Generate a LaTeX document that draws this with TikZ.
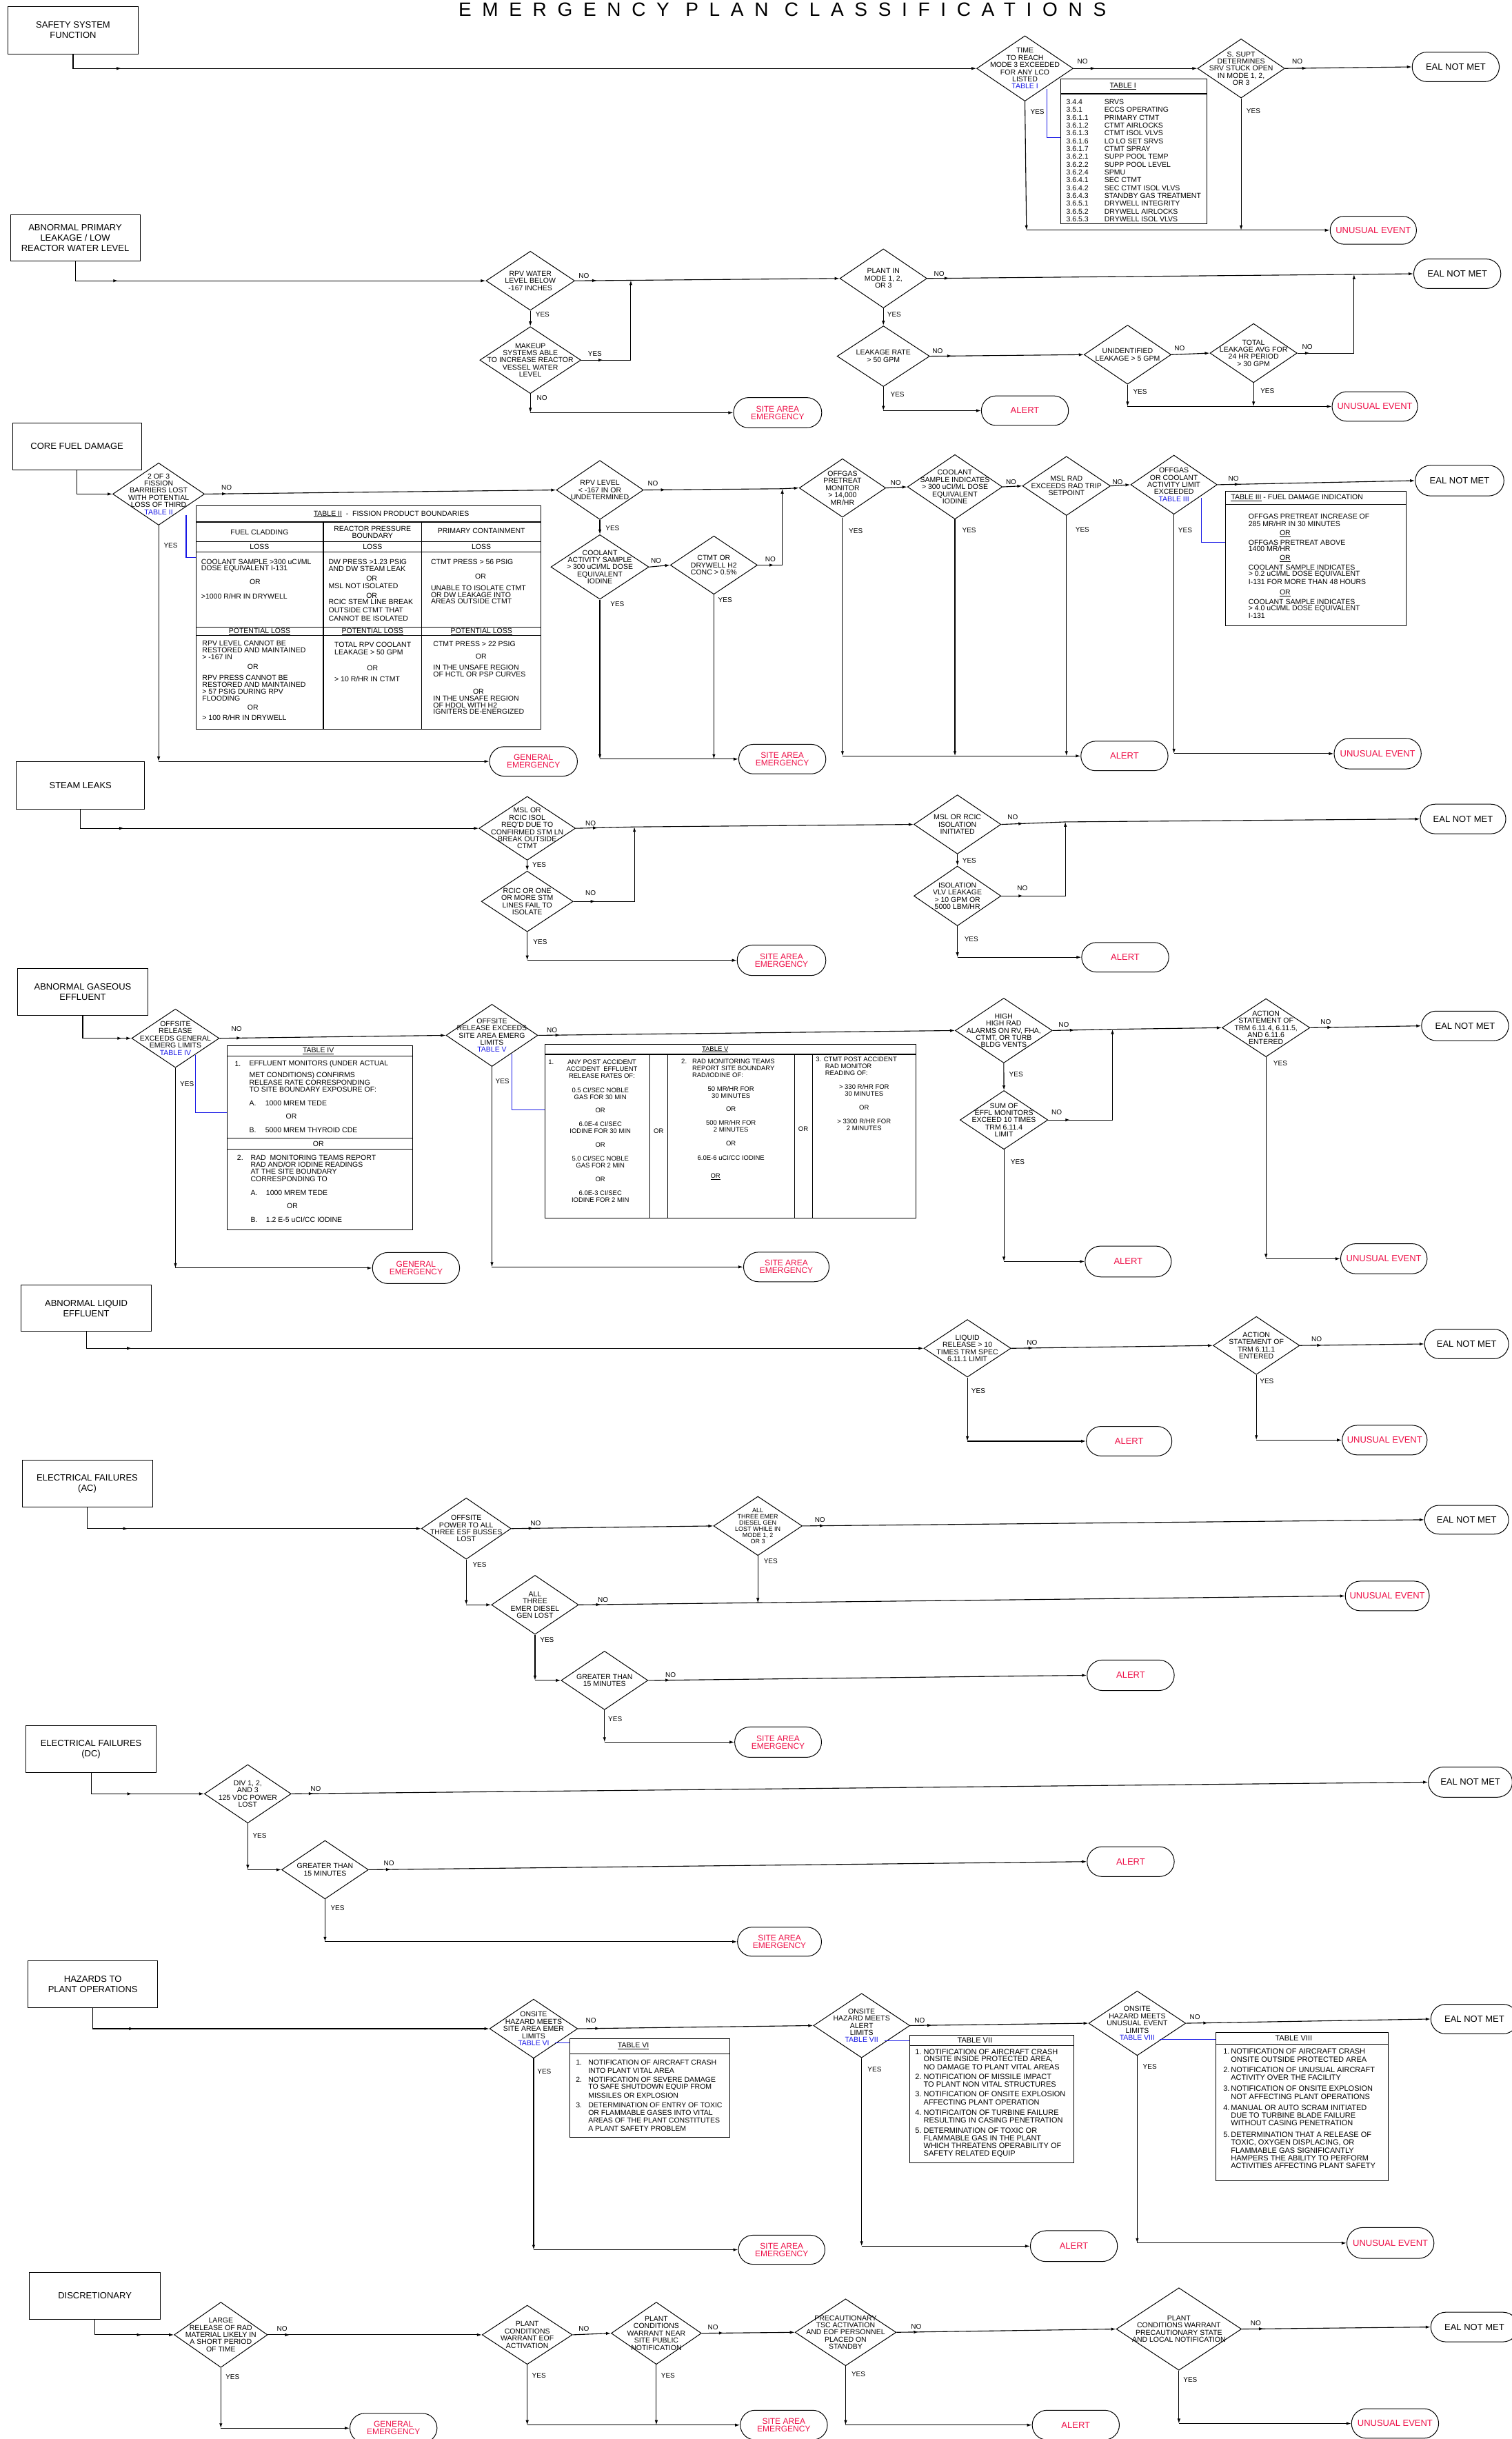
\documentclass[tikz,border=0pt]{standalone}
\usepackage{fontspec}
\setmainfont{Liberation Sans}
\newfontfamily\titlefont[LetterSpace=56]{Liberation Sans}
\usetikzlibrary{shapes.geometric,shapes.misc,arrows.meta,decorations.markings}
\definecolor{tred}{RGB}{238,16,72}
\definecolor{tblue}{RGB}{24,24,230}
\def\uu{2.2562pt}
\newcommand\dfont{\fontsize{10.5}{10.4}\selectfont}
\newcommand\sdfont{\fontsize{9}{9}\selectfont}
\newcommand\tfont{\fontsize{13}{13}\selectfont}
\newcommand\ttfnt{\fontsize{12}{11}\selectfont}
\newcommand\bfnt{\fontsize{13}{15}\selectfont}
\newcommand\ynfont{\fontsize{10}{10}\selectfont}
\newcommand\tabfont{\fontsize{10.5}{10.5}\selectfont}
\tikzset{
  dia/.style={draw, diamond, inner sep=0pt, line width=1pt},
  dtext/.style={align=center, font=\dfont, inner sep=0pt},
  term/.style={draw, rounded rectangle, inner sep=0pt, line width=1pt, align=center, font=\tfont},
  hbox/.style={draw, rectangle, inner sep=0pt, line width=1pt, align=center, font=\bfnt},
  conn/.style={line width=1.1pt, -{Latex[length=7pt,width=4.5pt]}},
  lnk/.style={line width=1.1pt},
  narr/.style={postaction={decorate}, decoration={markings, mark=at position #1 with {\arrow{Latex[length=7pt,width=4.5pt]}}}},
  narr/.default=32pt,
  blu/.style={draw=tblue, line width=1.1pt},
  ynl/.style={font=\ynfont, inner sep=0pt, anchor=west},
  tabt/.style={font=\tabfont, inner sep=0pt, anchor=west},
  tabc/.style={font=\tabfont, inner sep=0pt, anchor=center, align=center},
  tframe/.style={draw, line width=1pt},
}
\newcommand\mkdia[7][]{\node[dia, minimum width=#5*\uu, minimum height=#6*\uu] (#2) at (#3,#4) {};\node[dtext,#1] (#2t) at (#3,#4) {#7};}
\newcommand\mkterm[7][]{\node[term,#1,minimum width=#5*\uu,minimum height=#6*\uu] (#2) at (#3,#4) {#7};}
\newcommand\mkbox[6]{\node[hbox, minimum width=#4*\uu, minimum height=#5*\uu] (#1) at (#2,#3) {#6};}
\newcounter{lbc}
\newcommand\mklb[3]{\stepcounter{lbc}\node[ynl] (lb\thelbc) at (#1,#2) {#3};}
\newcounter{txc}
\newcommand\mktw[3]{\stepcounter{txc}\node[tabt] (tx\thetxc) at (#1,#2) {#3};}
\newcommand\mktc[3]{\stepcounter{txc}\node[tabc] (tx\thetxc) at (#1,#2) {#3};}
% yes-path: down from a diamond, arrow at the corner, then across to the target
\newcommand\ydn[2]{\draw[conn] (#1.south) -- (#1.south |- #2.west);\draw[conn] (#1.south |- #2.west) -- (#2.west);}
% start path from a title box
\newcommand\sdn[2]{\draw[conn, narr=90pt] (#1.south) |- (#2.west);}
\begin{document}
\begin{tikzpicture}[x=2.2562pt,y=-2.2562pt]
\useasboundingbox (0,0) rectangle (972,1568);
\fill[white] (0,0) rectangle (972,1568);
\node[anchor=base, inner sep=0pt, font=\titlefont\fontsize{28}{28}\selectfont] (title) at (503,10.4) {EMERGENCY PLAN CLASSIFICATIONS};

%% ---------------- Section 1
\mkbox{s1}{47}{19.5}{84}{31}{SAFETY SYSTEM\\FUNCTION}
\mkdia{d1a}{659}{44}{62}{42}{TIME\\TO REACH\\MODE 3 EXCEEDED\\FOR ANY LCO\\LISTED\\\textcolor{tblue}{TABLE I}}
\mkdia{d1b}{798}{44}{56}{38}{S. SUPT\\DETERMINES\\SRV STUCK OPEN\\IN MODE 1, 2,\\OR 3}
\mkterm{eal1}{936}{43}{56}{19}{EAL NOT MET}
\mkterm[text=tred]{ue1}{883}{148}{55.5}{18}{UNUSUAL EVENT}
\draw[tframe] (682,50.7) rectangle (776,144);
\draw[lnk] (682,60.3) -- (776,60.3);
\mktc{722}{55.5}{\underline{TABLE I}}
\foreach \c/\t [count=\i] in {3.4.4/SRVS,3.5.1/ECCS OPERATING,3.6.1.1/PRIMARY CTMT,3.6.1.2/CTMT AIRLOCKS,3.6.1.3/CTMT ISOL VLVS,3.6.1.6/LO LO SET SRVS,3.6.1.7/CTMT SPRAY,3.6.2.1/SUPP POOL TEMP,3.6.2.2/SUPP POOL LEVEL,3.6.2.4/SPMU,3.6.4.1/SEC CTMT,3.6.4.2/SEC CTMT ISOL VLVS,3.6.4.3/STANDBY GAS TREATMENT,3.6.5.1/DRYWELL INTEGRITY,3.6.5.2/DRYWELL AIRLOCKS,3.6.5.3/DRYWELL ISOL VLVS}{
  \node[tabt] (ca\i) at (685.5,{65.5+5.03*(\i-1)}) {\c};
  \node[tabt] (cb\i) at (710,{65.5+5.03*(\i-1)}) {\t};
}
\sdn{s1}{d1a}
\draw[conn, narr] (d1a.east) -- (d1b.west);
\draw[conn, narr] (d1b.east) -- (eal1.west);
\coordinate (j1a) at (660,148);
\coordinate (j1b) at (798,148);
\draw[conn] (d1a.south) -- (j1a);
\draw[conn] (j1a) -- (ue1.west);
\draw[conn] (d1b.south) -- (j1b);
\draw[blu] (673,57) |- (682,88.5);
\mklb{692.6}{39.7}{NO}\mklb{830.7}{39.6}{NO}\mklb{662.5}{71.8}{YES}\mklb{801.4}{71.4}{YES}

%% ---------------- Section 2
\mkbox{s2}{48.35}{153}{83.3}{30}{ABNORMAL PRIMARY\\LEAKAGE / LOW\\REACTOR WATER LEVEL}
\mkdia{d2a}{341}{180.5}{57}{38}{RPV WATER\\LEVEL BELOW\\-167 INCHES}
\mkdia{d2c}{341}{231.5}{65}{43}{MAKEUP\\SYSTEMS ABLE\\TO INCREASE REACTOR\\VESSEL WATER\\LEVEL}
\mkdia{d2b}{568}{179}{56}{38}{PLANT IN\\MODE 1, 2,\\OR 3}
\mkdia{d2d}{568}{229}{59.5}{39}{LEAKAGE RATE\\> 50 GPM}
\mkdia{d2e}{725}{228}{56}{38}{UNIDENTIFIED\\LEAKAGE > 5 GPM}
\mkdia{d2f}{806}{227}{56}{38}{TOTAL\\LEAKAGE AVG FOR\\24 HR PERIOD\\> 30 GPM}
\mkterm{eal2}{937}{176}{56}{19}{EAL NOT MET}
\mkterm[font=\ttfnt,text=tred]{sae2}{500}{265.3}{56.7}{19.4}{SITE AREA\\EMERGENCY}
\mkterm[text=tred]{alert2}{659}{264}{56}{19}{ALERT}
\mkterm[text=tred]{ue2}{884}{261.3}{55}{19}{UNUSUAL EVENT}
\sdn{s2}{d2a}
\coordinate (j2a) at (405.6,180.2);
\draw[lnk, narr] (d2a.east) -- (j2a);
\draw[conn] (j2a) -- (d2b.west);
\draw[conn] (d2a.south) -- (d2c.north);
\draw[conn, narr] (d2c.east) -| (j2a);
\ydn{d2c}{sae2}
\coordinate (j2c) at (870.6,176.4);
\draw[lnk, narr] (d2b.east) -- (j2c);
\draw[conn] (j2c) -- (eal2.west);
\draw[conn] (d2b.south) -- (d2d.north);
\draw[conn, narr] (d2d.east) -- (d2e.west);
\draw[conn] (d2e.east) -- (d2f.west);
\draw[conn, narr=18pt] (d2f.east) -| (j2c);
\ydn{d2d}{alert2}
\ydn{d2e}{ue2}
\coordinate (j2d) at (d2f.south |- ue2.west);
\draw[conn] (d2f.south) -- (j2d);
\mklb{372}{177.3}{NO}\mklb{344.3}{202.3}{YES}\mklb{378}{227.6}{YES}\mklb{345.1}{255.6}{NO}
\mklb{600.4}{176.1}{NO}\mklb{570.4}{202.1}{YES}\mklb{599.4}{225.8}{NO}\mklb{572.5}{253.4}{YES}
\mklb{755}{224}{NO}\mklb{728.5}{251.9}{YES}\mklb{837.2}{223.1}{NO}\mklb{810.4}{251.2}{YES}

%% ---------------- Section 3
\mkbox{s3}{49.5}{287}{83}{30}{CORE FUEL DAMAGE}
\mkdia{d3a}{102}{317.6}{59}{40}{2 OF 3\\FISSION\\BARRIERS LOST\\WITH POTENTIAL\\LOSS OF THIRD\\\textcolor{tblue}{TABLE II}}
\mkdia{d3b}{385.7}{315}{56}{38}{RPV LEVEL\\< -167 IN OR\\UNDETERMINED}
\mkdia{d3c}{385.7}{364.5}{63}{41.5}{COOLANT\\ACTIVITY SAMPLE\\> 300 uCI/ML DOSE\\EQUIVALENT\\IODINE}
\mkdia{d3e}{459}{363.3}{56}{37.5}{CTMT OR\\DRYWELL H2\\CONC > 0.5\%}
\mkdia{d3d}{541.7}{313.7}{55.6}{37.6}{OFFGAS\\PRETREAT\\MONITOR\\> 14,000\\MR/HR}
\mkdia{d3f}{614}{313}{61}{41.5}{COOLANT\\SAMPLE INDICATES\\> 300 uCI/ML DOSE\\EQUIVALENT\\IODINE}
\mkdia{d3g}{685.7}{312.4}{56.6}{38}{MSL RAD\\EXCEEDS RAD TRIP\\SETPOINT}
\mkdia{d3h}{754.8}{311.6}{55.6}{38}{OFFGAS\\OR COOLANT\\ACTIVITY LIMIT\\EXCEEDED\\\textcolor{tblue}{TABLE III}}
\mkterm{eal3}{938.5}{309}{57}{19.6}{EAL NOT MET}
\mkterm[font=\ttfnt,text=tred]{ge3}{343}{489.5}{56.5}{19}{GENERAL\\EMERGENCY}
\mkterm[font=\ttfnt,text=tred]{sae3}{503}{488}{56}{19}{SITE AREA\\EMERGENCY}
\mkterm[text=tred]{alert3}{723}{486}{56}{19}{ALERT}
\mkterm[text=tred]{ue3}{885.8}{484.5}{56}{19.7}{UNUSUAL EVENT}
\sdn{s3}{d3a}
\draw[conn, narr] (d3a.east) -- (d3b.west);
\ydn{d3a}{ge3}
\draw[blu] (119.7,331) |- (125.9,358.6);
\coordinate (j3a) at (503,314.2);
\draw[lnk, narr] (d3b.east) -- (j3a);
\draw[conn] (j3a) -- (d3d.west);
\draw[conn] (d3b.south) -- (d3c.north);
\draw[conn] (d3c.east) -- (d3e.west);
\draw[conn, narr=24pt] (d3e.east) -| (j3a);
\ydn{d3c}{sae3}
\coordinate (j3b) at (d3e.south |- sae3.west);
\draw[conn] (d3e.south) -- (j3b);
\draw[conn] (d3d.east) -- (d3f.west);
\draw[conn] (d3f.east) -- (d3g.west);
\draw[conn] (d3g.east) -- (d3h.west);
\draw[conn, narr] (d3h.east) -- (eal3.west);
\ydn{d3d}{alert3}
\coordinate (j3c) at (d3f.south |- alert3.west);
\coordinate (j3d) at (d3g.south |- alert3.west);
\draw[conn] (d3f.south) -- (j3c);
\draw[conn] (d3g.south) -- (j3d);
\ydn{d3h}{ue3}
\draw[blu] (772.4,320) |- (787.9,348.7);
\mklb{142.3}{313.6}{NO}\mklb{105.2}{350.6}{YES}\mklb{416.4}{310.9}{NO}\mklb{389.3}{339.4}{YES}
\mklb{418.4}{360.4}{NO}\mklb{392.4}{388.5}{YES}\mklb{491.9}{359.6}{NO}\mklb{461.7}{385.9}{YES}
\mklb{572.5}{310.5}{NO}\mklb{545.7}{341.3}{YES}\mklb{646.7}{309.7}{NO}\mklb{618.6}{340.9}{YES}
\mklb{715.2}{309.8}{NO}\mklb{691.4}{340.4}{YES}\mklb{789.7}{307.9}{NO}\mklb{757.5}{340.9}{YES}
% Table II
\draw[tframe] (125.9,325) rectangle (347.8,469);
\foreach \yy in {335.6,348.1,354.7,403,408.7} {\draw[lnk] (125.9,\yy) -- (347.8,\yy);}
\draw[lnk] (207.9,335.6) -- (207.9,469);
\draw[lnk] (271.1,335.6) -- (271.1,469);
\mktc{251.6}{330.5}{\underline{TABLE II}\ \ -\ \ FISSION PRODUCT BOUNDARIES}
\mktc{166.9}{342}{FUEL CLADDING}
\mktc{239.5}{342.1}{REACTOR PRESSURE\\BOUNDARY}
\mktc{309.5}{341.5}{PRIMARY CONTAINMENT}
\mktc{166.9}{351.5}{LOSS}\mktc{239.5}{351.5}{LOSS}\mktc{309.5}{351.5}{LOSS}
\mktc{166.9}{405.9}{\underline{POTENTIAL LOSS}}\mktc{239.5}{405.9}{\underline{POTENTIAL LOSS}}\mktc{309.5}{405.9}{\underline{POTENTIAL LOSS}}
\mktw{129.3}{361.1}{COOLANT SAMPLE >300 uCI/ML}
\mktw{129.3}{365.6}{DOSE EQUIVALENT I-131}
\mktc{164}{374.1}{OR}
\mktw{129.3}{383.3}{>1000 R/HR IN DRYWELL}
\mktw{211.2}{361.1}{DW PRESS >1.23 PSIG}
\mktw{211.2}{365.6}{AND DW STEAM LEAK}
\mktc{239}{372.1}{OR}
\mktw{211.2}{376.6}{MSL NOT ISOLATED}
\mktc{239}{382.9}{OR}
\mktw{211.2}{387}{RCIC STEM LINE BREAK}
\mktw{211.2}{392.2}{OUTSIDE CTMT THAT}
\mktw{211.2}{397.8}{CANNOT BE ISOLATED}
\mktw{277}{361.1}{CTMT PRESS > 56 PSIG}
\mktc{309}{370.6}{OR}
\mktw{277}{378}{UNABLE TO ISOLATE CTMT}
\mktw{277}{382.5}{OR DW LEAKAGE INTO}
\mktw{277}{386.7}{AREAS OUTSIDE CTMT}
\mktw{130}{413.6}{RPV LEVEL CANNOT BE}
\mktw{130}{418}{RESTORED AND MAINTAINED}
\mktw{130}{422.6}{> -167 IN}
\mktc{162.6}{428.5}{OR}
\mktw{130}{435.7}{RPV PRESS CANNOT BE}
\mktw{130}{440}{RESTORED AND MAINTAINED}
\mktw{130}{444.6}{> 57 PSIG DURING RPV}
\mktw{130}{449}{FLOODING}
\mktc{162.6}{454.8}{OR}
\mktw{130}{461.4}{> 100 R/HR IN DRYWELL}
\mktw{215}{414.3}{TOTAL RPV COOLANT}
\mktw{215}{419.1}{LEAKAGE > 50 GPM}
\mktc{239.5}{429.3}{OR}
\mktw{215}{436.5}{> 10 R/HR IN CTMT}
\mktw{278.5}{414}{CTMT PRESS > 22 PSIG}
\mktc{309.3}{421.8}{OR}
\mktw{278.5}{429}{IN THE UNSAFE REGION}
\mktw{278.5}{433.5}{OF HCTL OR PSP CURVES}
\mktc{307.6}{444.6}{OR}
\mktw{278.5}{448.8}{IN THE UNSAFE REGION}
\mktw{278.5}{453.3}{OF HDOL WITH H2}
\mktw{278.5}{457.5}{IGNITERS DE-ENERGIZED}
% Table III
\draw[tframe] (787.9,316) rectangle (904,402.3);
\draw[lnk] (787.9,324.4) -- (904,324.4);
\mktw{791.4}{320.2}{\underline{TABLE III} - FUEL DAMAGE INDICATION}
\mktw{802.7}{331.9}{OFFGAS PRETREAT INCREASE OF}
\mktw{802.7}{336.7}{285 MR/HR IN 30 MINUTES}
\mktw{822.7}{343.1}{\underline{OR}}
\mktw{802.7}{348.7}{OFFGAS PRETREAT ABOVE}
\mktw{802.7}{352.9}{1400 MR/HR}
\mktw{822.7}{359.2}{\underline{OR}}
\mktw{802.7}{364.9}{COOLANT SAMPLE INDICATES}
\mktw{802.7}{369.3}{> 0.2 uCI/ML DOSE EQUIVALENT}
\mktw{802.7}{373.9}{I-131 FOR MORE THAN 48 HOURS}
\mktw{822.7}{381.3}{\underline{OR}}
\mktw{802.7}{387}{COOLANT SAMPLE INDICATES}
\mktw{802.7}{391.5}{> 4.0 uCI/ML DOSE EQUIVALENT}
\mktw{802.7}{395.8}{I-131}

%% ---------------- Section 4
\mkbox{s4}{51.75}{505.1}{82.5}{30.6}{STEAM LEAKS}
\mkdia{d4a}{339}{532.5}{62}{41}{MSL OR\\RCIC ISOL\\REQ'D DUE TO\\CONFIRMED STM LN\\BREAK OUTSIDE\\CTMT}
\mkdia{d4b}{339}{579.5}{59}{39}{RCIC OR ONE\\OR MORE STM\\LINES FAIL TO\\ISOLATE}
\mkdia{d4c}{615.6}{530}{56}{38}{MSL OR RCIC\\ISOLATION\\INITIATED}
\mkdia{d4d}{615.6}{576}{56}{38.4}{ISOLATION\\VLV LEAKAGE\\> 10 GPM OR\\5000 LBM/HR}
\mkterm{eal4}{940.7}{526.5}{55}{19}{EAL NOT MET}
\mkterm[font=\ttfnt,text=tred]{sae4}{502.5}{617.4}{57}{19.5}{SITE AREA\\EMERGENCY}
\mkterm[text=tred]{alert4}{723.5}{615.4}{56}{19}{ALERT}
\sdn{s4}{d4a}
\coordinate (j4a) at (407.9,531.6);
\draw[lnk, narr] (d4a.east) -- (j4a);
\draw[conn] (j4a) -- (d4c.west);
\draw[conn] (d4a.south) -- (d4b.north);
\draw[conn, narr] (d4b.east) -| (j4a);
\ydn{d4b}{sae4}
\coordinate (j4b) at (685,528.4);
\draw[lnk, narr] (d4c.east) -- (j4b);
\draw[conn] (j4b) -- (eal4.west);
\draw[conn] (d4c.south) -- (d4d.north);
\draw[conn, narr] (d4d.east) -| (j4b);
\ydn{d4d}{alert4}
\mklb{376.3}{529.4}{NO}\mklb{342.2}{556}{YES}\mklb{376.3}{574.2}{NO}\mklb{342.8}{605.4}{YES}
\mklb{647.8}{525.3}{NO}\mklb{618.7}{553.3}{YES}\mklb{654}{570.8}{NO}\mklb{620}{603.6}{YES}

%% ---------------- Section 5
\mkbox{s5}{53.2}{637.8}{83.4}{30}{ABNORMAL GASEOUS\\EFFLUENT}
\mkdia{d5a}{112.8}{667.5}{56.3}{37.7}{OFFSITE\\RELEASE\\EXCEEDS GENERAL\\EMERG LIMITS\\\textcolor{tblue}{TABLE IV}}
\mkdia{d5b}{316.3}{665.6}{59}{40}{OFFSITE\\RELEASE EXCEEDS\\SITE AREA EMERG\\LIMITS\\\textcolor{tblue}{TABLE V}}
\mkdia{d5c}{645.4}{662.5}{62.4}{41.7}{HIGH\\HIGH RAD\\ALARMS ON RV, FHA,\\CTMT, OR TURB\\BLDG VENTS}
\mkdia{d5d}{645.5}{720}{56.5}{37.8}{SUM OF\\EFFL MONITORS\\EXCEED 10 TIMES\\TRM 6.11.4\\LIMIT}
\mkdia{d5e}{814}{660.7}{56.5}{37.4}{ACTION\\STATEMENT OF\\TRM 6.11.4, 6.11.5,\\AND 6.11.6\\ENTERED}
\mkterm{eal5}{942}{659.5}{56}{19}{EAL NOT MET}
\mkterm[font=\ttfnt,text=tred]{ge5}{267.5}{815.2}{56}{20}{GENERAL\\EMERGENCY}
\mkterm[font=\ttfnt,text=tred]{sae5}{505.6}{814.5}{55}{19}{SITE AREA\\EMERGENCY}
\mkterm[text=tred]{alert5}{725.4}{811}{55.4}{19.8}{ALERT}
\mkterm[text=tred]{ue5}{889.8}{809.2}{55.6}{19.3}{UNUSUAL EVENT}
\sdn{s5}{d5a}
\draw[conn, narr] (d5a.east) -- (d5b.west);
\draw[conn, narr] (d5b.east) -- (d5c.west);
\coordinate (j5) at (715.3,661.7);
\draw[lnk, narr] (d5c.east) -- (j5);
\draw[conn] (j5) -- (d5e.west);
\draw[conn] (d5c.south) -- (d5d.north);
\draw[conn, narr] (d5d.east) -| (j5);
\ydn{d5d}{alert5}
\draw[conn, narr] (d5e.east) -- (eal5.west);
\ydn{d5e}{ue5}
\ydn{d5a}{ge5}
\ydn{d5b}{sae5}
\draw[blu] (125.7,678.2) |- (146.2,715.4);
\draw[blu] (329,677.4) |- (350.6,713.7);
\mklb{148.7}{661.5}{NO}\mklb{115.7}{697.1}{YES}\mklb{351.5}{662.4}{NO}\mklb{318.5}{695.2}{YES}
\mklb{680.6}{658.7}{NO}\mklb{648.8}{690.5}{YES}\mklb{676}{715.1}{NO}\mklb{649.8}{747.2}{YES}
\mklb{849}{657.2}{NO}\mklb{818.7}{683.7}{YES}
% Table IV
\draw[tframe] (146.2,672.3) rectangle (265.3,790.8);
\draw[lnk] (146.2,679) -- (265.3,679);
\draw[lnk] (146.2,731.8) -- (265.3,731.8);
\draw[lnk] (146.2,738.8) -- (265.3,738.8);
\mktc{204.7}{675.6}{\underline{TABLE IV}}
\mktw{150.9}{684.1}{1.}
\mktw{160.2}{684.1}{EFFLUENT MONITORS (UNDER ACTUAL}
\mktw{160.2}{691.5}{MET CONDITIONS) CONFIRMS}
\mktw{160.2}{695.9}{RELEASE RATE CORRESPONDING}
\mktw{160.2}{700.4}{TO SITE BOUNDARY EXPOSURE OF:}
\mktw{160.2}{709.2}{A.}\mktw{170.5}{709.2}{1000 MREM TEDE}
\mktc{187.3}{717.8}{OR}
\mktw{160.2}{726.5}{B.}\mktw{170.5}{726.5}{5000 MREM THYROID CDE}
\mktc{204.7}{735.3}{OR}
\mktw{152.4}{744.2}{2.}
\mktw{161.1}{744.2}{RAD \ MONITORING TEAMS REPORT}
\mktw{161.1}{748.7}{RAD AND/OR IODINE READINGS}
\mktw{161.1}{753.3}{AT THE SITE BOUNDARY}
\mktw{161.1}{758}{CORRESPONDING TO}
\mktw{161.1}{766.8}{A.}\mktw{171}{766.8}{1000 MREM TEDE}
\mktc{188}{775.4}{OR}
\mktw{161.1}{784.1}{B.}\mktw{171}{784.1}{1.2 E-5 uCI/CC IODINE}
% Table V
\draw[tframe] (350.6,671.6) rectangle (589,783);
\draw[lnk] (350.6,677.8) -- (589,677.8);
\foreach \xx in {417.8,429.3,510.8,522.3} {\draw[lnk] (\xx,677.8) -- (\xx,783);}
\begin{scope}[tabt/.append style={font=\fontsize{9.5}{9.5}\selectfont},tabc/.append style={font=\fontsize{9.5}{9.5}\selectfont}]
\mktc{459.8}{674.7}{\underline{TABLE V}}
\mktw{352.5}{682.6}{1.}
\mktc{387}{682.6}{ANY POST ACCIDENT}
\mktc{387}{687.2}{ACCIDENT \ EFFLUENT}
\mktc{387}{691.8}{RELEASE RATES OF:}
\mktc{386}{700.8}{0.5 CI/SEC NOBLE}
\mktc{386}{705.2}{GAS FOR 30 MIN}
\mktc{386}{713.7}{OR}
\mktc{386}{722.5}{6.0E-4 CI/SEC}
\mktc{386}{727}{IODINE FOR 30 MIN}
\mktc{386}{735.8}{OR}
\mktc{386}{744.7}{5.0 CI/SEC NOBLE}
\mktc{386}{749.4}{GAS FOR 2 MIN}
\mktc{386}{758.3}{OR}
\mktc{386}{766.8}{6.0E-3 CI/SEC}
\mktc{386}{771.3}{IODINE FOR 2 MIN}
\mktc{423.5}{727}{OR}
\mktw{438}{682.3}{2.}
\mktw{445}{682.3}{RAD MONITORING TEAMS}
\mktw{445}{686.7}{REPORT SITE BOUNDARY}
\mktw{445}{691.2}{RAD/IODINE OF:}
\mktc{470}{700}{50 MR/HR FOR}
\mktc{470}{704.5}{30 MINUTES}
\mktc{470}{713}{OR}
\mktc{470}{721.9}{500 MR/HR FOR}
\mktc{470}{726.3}{2 MINUTES}
\mktc{470}{735}{OR}
\mktc{470}{744.3}{6.0E-6 uCI/CC IODINE}
\mktc{460}{756.5}{\underline{OR}}
\mktc{516.5}{726}{OR}
\mktw{524.5}{681.2}{3. CTMT POST ACCIDENT}
\mktw{530.5}{685.6}{RAD MONITOR}
\mktw{530.5}{690}{READING OF:}
\mktc{555.6}{698.9}{> 330 R/HR FOR}
\mktc{555.6}{703.3}{30 MINUTES}
\mktc{555.6}{712.2}{OR}
\mktc{555.6}{721}{> 3300 R/HR FOR}
\mktc{555.6}{725.5}{2 MINUTES}
\end{scope}

%% ---------------- Section 6
\mkbox{s6}{55.45}{841}{83.7}{30}{ABNORMAL LIQUID\\EFFLUENT}
\mkdia{d6a}{622}{866.8}{56}{37}{LIQUID\\RELEASE > 10\\TIMES TRM SPEC\\6.11.1 LIMIT}
\mkdia{d6b}{807.8}{865}{55.6}{37.3}{ACTION\\STATEMENT OF\\TRM 6.11.1\\ENTERED}
\mkterm{eal6}{943}{864}{54}{19}{EAL NOT MET}
\mkterm[text=tred]{alert6}{726}{926.5}{55}{19}{ALERT}
\mkterm[text=tred]{ue6}{890.3}{925.8}{54.6}{19}{UNUSUAL EVENT}
\sdn{s6}{d6a}
\draw[conn, narr] (d6a.east) -- (d6b.west);
\draw[conn, narr] (d6b.east) -- (eal6.west);
\ydn{d6a}{alert6}
\ydn{d6b}{ue6}
\mklb{660.2}{863.1}{NO}\mklb{624.5}{894.1}{YES}\mklb{843.1}{861.1}{NO}\mklb{810}{887.8}{YES}

%% ---------------- Section 7
\mkbox{s7}{56.1}{953.7}{83.8}{30.2}{ELECTRICAL FAILURES\\(AC)}
\mkdia{d7a}{299.8}{982.7}{57.6}{39.4}{OFFSITE\\POWER TO ALL\\THREE ESF BUSSES\\LOST}
\mkdia[font=\sdfont]{d7b}{487.3}{981}{57}{38}{ALL\\THREE EMER\\DIESEL GEN\\LOST WHILE IN\\MODE 1, 2\\OR 3}
\mkdia{d7c}{344}{1031.7}{56}{38}{ALL\\THREE\\EMER DIESEL\\GEN LOST}
\mkdia{d7d}{388.7}{1080.3}{55.8}{37.7}{GREATER THAN\\15 MINUTES}
\mkterm{eal7}{943}{977}{54}{18.5}{EAL NOT MET}
\mkterm[text=tred]{ue7}{892}{1026}{54}{19}{UNUSUAL EVENT}
\mkterm[text=tred]{alert7}{727}{1077}{56}{19.6}{ALERT}
\mkterm[font=\ttfnt,text=tred]{sae7}{500.3}{1120}{55.8}{19.5}{SITE AREA\\EMERGENCY}
\sdn{s7}{d7a}
\draw[conn, narr] (d7a.east) -- (d7b.west);
\draw[conn, narr] (d7b.east) -- (eal7.west);
\ydn{d7a}{d7c}
\draw[conn, narr] (d7c.east) -- (ue7.west);
\coordinate (j7) at (487.3,1030.4);
\draw[conn, line width=0.6pt] (d7b.south) -- (j7);
\ydn{d7c}{d7d}
\draw[conn, narr] (d7d.east) -- (alert7.west);
\ydn{d7d}{sae7}
\mklb{341}{979.2}{NO}\mklb{303.8}{1005.9}{YES}\mklb{523.8}{977}{NO}\mklb{491}{1003.5}{YES}
\mklb{384.3}{1028.4}{NO}\mklb{347.2}{1054.3}{YES}\mklb{427.8}{1077}{NO}\mklb{391}{1105.4}{YES}

%% ---------------- Section 8
\mkbox{s8}{58.55}{1124.4}{83.7}{30.2}{ELECTRICAL FAILURES\\(DC)}
\mkdia{d8a}{159.3}{1153.2}{55.8}{37.6}{DIV 1, 2,\\AND 3\\125 VDC POWER\\LOST}
\mkdia{d8b}{209}{1202}{55.8}{37.6}{GREATER THAN\\15 MINUTES}
\mkterm{eal8}{945.4}{1145.7}{54}{19.4}{EAL NOT MET}
\mkterm[text=tred]{alert8}{727}{1196.8}{56}{19.2}{ALERT}
\mkterm[font=\ttfnt,text=tred]{sae8}{501.2}{1248.3}{54}{18.7}{SITE AREA\\EMERGENCY}
\sdn{s8}{d8a}
\draw[conn, narr] (d8a.east) -- (eal8.west);
\ydn{d8a}{d8b}
\draw[conn, narr] (d8b.east) -- (alert8.west);
\ydn{d8b}{sae8}
\mklb{199.6}{1149.8}{NO}\mklb{162.4}{1180.1}{YES}\mklb{246.7}{1198}{NO}\mklb{212.5}{1226.8}{YES}

%% ---------------- Section 9
\mkbox{s9}{59.7}{1275.6}{83.6}{30}{HAZARDS TO\\PLANT OPERATIONS}
\mkdia{d9a}{343.1}{1304.2}{56.6}{38}{ONSITE\\HAZARD MEETS\\SITE AREA EMER\\LIMITS\\\textcolor{tblue}{TABLE VI}}
\mkdia{d9b}{554}{1302.2}{62}{41.4}{ONSITE\\HAZARD MEETS\\ALERT\\LIMITS\\\textcolor{tblue}{TABLE VII}}
\mkdia{d9c}{731.2}{1300.7}{62.4}{41.5}{ONSITE\\HAZARD MEETS\\UNUSUAL EVENT\\LIMITS\\\textcolor{tblue}{TABLE VIII}}
\mkterm{eal9}{948}{1298}{56}{19}{EAL NOT MET}
\mkterm[font=\ttfnt,text=tred]{sae9}{502.6}{1446.3}{55.6}{18.7}{SITE AREA\\EMERGENCY}
\mkterm[text=tred]{alert9}{690.5}{1444}{56}{19.8}{ALERT}
\mkterm[text=tred]{ue9}{894}{1442}{56}{19.8}{UNUSUAL EVENT}
\sdn{s9}{d9a}
\draw[conn, narr] (d9a.east) -- (d9b.west);
\draw[conn, narr] (d9b.east) -- (d9c.west);
\draw[conn, narr] (d9c.east) -- (eal9.west);
\ydn{d9a}{sae9}
\ydn{d9b}{alert9}
\ydn{d9c}{ue9}
\draw[blu] (356.7,1313.2) -- (366.5,1313.2);
\draw[blu] (568.7,1312) -- (585,1312);
\draw[blu] (745.6,1311.1) -- (781.7,1311.1);
\mklb{376.6}{1299}{NO}\mklb{345.4}{1331.6}{YES}\mklb{587.9}{1298.7}{NO}\mklb{557.8}{1330.4}{YES}
\mklb{764.9}{1296.9}{NO}\mklb{734.8}{1328.8}{YES}
% Table VI
\draw[tframe] (366.5,1310.6) rectangle (469.3,1374.1);
\draw[lnk] (366.5,1320.2) -- (469.3,1320.2);
\mktc{407.2}{1315.4}{\underline{TABLE VI}}
\mktw{370.2}{1326.1}{1.}\mktw{378.2}{1326.1}{NOTIFICATION OF AIRCRAFT CRASH}
\mktw{378.2}{1331}{INTO PLANT VITAL AREA}
\mktw{370.2}{1336.9}{2.}\mktw{378.2}{1336.9}{NOTIFICATION OF SEVERE DAMAGE}
\mktw{378.2}{1341.9}{TO SAFE SHUTDOWN EQUIP FROM}
\mktw{378.2}{1347.1}{MISSILES OR EXPLOSION}
\mktw{370.2}{1353.2}{3.}\mktw{378.2}{1353.2}{DETERMINATION OF ENTRY OF TOXIC}
\mktw{378.2}{1358.3}{OR FLAMMABLE GASES INTO VITAL}
\mktw{378.2}{1363.3}{AREAS OF THE PLANT CONSTITUTES}
\mktw{378.2}{1368.5}{A PLANT SAFETY PROBLEM}
% Table VII and VIII
\begin{scope}[tabt/.append style={font=\fontsize{11}{11}\selectfont},tabc/.append style={font=\fontsize{11}{11}\selectfont}]
\draw[tframe] (585,1308.5) rectangle (690.6,1390.5);
\draw[lnk] (585,1315) -- (690.6,1315);
\mktc{626.8}{1311.8}{TABLE VII}
\mktw{588.3}{1319}{1.}\mktw{593.8}{1319}{NOTIFICATION OF AIRCRAFT CRASH}
\mktw{593.8}{1324}{ONSITE INSIDE PROTECTED AREA,}
\mktw{593.8}{1329}{NO DAMAGE TO PLANT VITAL AREAS}
\mktw{588.3}{1335.1}{2.}\mktw{593.8}{1335.1}{NOTIFICATION OF MISSILE IMPACT}
\mktw{593.8}{1340}{TO PLANT NON VITAL STRUCTURES}
\mktw{588.3}{1346.3}{3.}\mktw{593.8}{1346.3}{NOTIFICATION OF ONSITE EXPLOSION}
\mktw{593.8}{1351.5}{AFFECTING PLANT OPERATION}
\mktw{588.3}{1358}{4.}\mktw{593.8}{1358}{NOTIFICAITON OF TURBINE FAILURE}
\mktw{593.8}{1362.9}{RESULTING IN CASING PENETRATION}
\mktw{588.3}{1369.6}{5.}\mktw{593.8}{1369.6}{DETERMINATION OF TOXIC OR}
\mktw{593.8}{1374.5}{FLAMMABLE GAS IN THE PLANT}
\mktw{593.8}{1379.6}{WHICH THREATENS OPERABILITY OF}
\mktw{593.8}{1384.9}{SAFETY RELATED EQUIP}
\draw[tframe] (781.7,1306.6) rectangle (892.6,1402);
\draw[lnk] (781.7,1314) -- (892.6,1314);
\mktc{831.8}{1310.3}{TABLE VIII}
\mktw{786.5}{1318.6}{1.}\mktw{791.4}{1318.6}{NOTIFICATION OF AIRCRAFT CRASH}
\mktw{791.4}{1323.9}{ONSITE OUTSIDE PROTECTED AREA}
\mktw{786.5}{1330.8}{2.}\mktw{791.4}{1330.8}{NOTIFICATION OF UNUSUAL AIRCRAFT}
\mktw{791.4}{1335.7}{ACTIVITY OVER THE FACILITY}
\mktw{786.5}{1342.6}{3.}\mktw{791.4}{1342.6}{NOTIFICATION OF ONSITE EXPLOSION}
\mktw{791.4}{1347.9}{NOT AFFECTING PLANT OPERATIONS}
\mktw{786.5}{1355}{4.}\mktw{791.4}{1355}{MANUAL OR AUTO SCRAM INITIATED}
\mktw{791.4}{1359.9}{DUE TO TURBINE BLADE FAILURE}
\mktw{791.4}{1364.8}{WITHOUT CASING PENETRATION}
\mktw{786.5}{1372.5}{5.}\mktw{791.4}{1372.5}{DETERMINATION THAT A RELEASE OF}
\mktw{791.4}{1377.5}{TOXIC, OXYGEN DISPLACING, OR}
\mktw{791.4}{1382.5}{FLAMMABLE GAS SIGNIFICANTLY}
\mktw{791.4}{1387.5}{HAMPERS THE ABILITY TO PERFORM}
\mktw{791.4}{1392.4}{ACTIVITIES AFFECTING PLANT SAFETY}
\end{scope}

%% ---------------- Section 10
\mkbox{s10}{61}{1476}{84}{30}{DISCRETIONARY}
\mkdia{d10a}{142}{1501}{60}{42}{LARGE\\RELEASE OF RAD\\MATERIAL LIKELY IN\\A SHORT PERIOD\\OF TIME}
\mkdia{d10b}{339}{1501}{58}{38}{PLANT\\CONDITIONS\\WARRANT EOF\\ACTIVATION}
\mkdia{d10c}{422}{1500}{58}{40}{PLANT\\CONDITIONS\\WARRANT NEAR\\SITE PUBLIC\\NOTIFICATION}
\mkdia{d10d}{543.7}{1499.4}{65}{43}{PRECAUTIONARY\\TSC ACTIVATION\\AND EOF PERSONNEL\\PLACED ON\\STANDBY}
\mkdia{d10e}{758}{1497.3}{80.5}{53}{PLANT\\CONDITIONS WARRANT\\PRECAUTIONARY STATE\\AND LOCAL NOTIFICATION}
\mkterm{eal10}{948}{1496}{56}{19}{EAL NOT MET}
\mkterm[font=\ttfnt,text=tred]{ge10}{253}{1561}{56}{19}{GENERAL\\EMERGENCY}
\mkterm[font=\ttfnt,text=tred]{sae10}{504}{1559}{56}{19}{SITE AREA\\EMERGENCY}
\mkterm[text=tred]{alert10}{691.7}{1559}{56}{19}{ALERT}
\mkterm[text=tred]{ue10}{897}{1558}{56}{19}{UNUSUAL EVENT}
\sdn{s10}{d10a}
\draw[conn, narr] (d10a.east) -- (d10b.west);
\draw[conn] (d10b.east) -- (d10c.west);
\draw[conn, narr] (d10c.east) -- (d10d.west);
\draw[conn, narr] (d10d.east) -- (d10e.west);
\draw[conn, narr] (d10e.east) -- (eal10.west);
\ydn{d10a}{ge10}
\ydn{d10b}{sae10}
\coordinate (j10) at (d10c.south |- sae10.west);
\draw[conn] (d10c.south) -- (j10);
\ydn{d10d}{alert10}
\ydn{d10e}{ue10}
\mklb{178}{1497}{NO}\mklb{145}{1528}{YES}\mklb{372}{1497}{NO}\mklb{342}{1527}{YES}
\mklb{455}{1496}{NO}\mklb{425}{1527}{YES}\mklb{585.7}{1495.9}{NO}\mklb{547.4}{1526.2}{YES}
\mklb{804}{1493.7}{NO}\mklb{760.8}{1529.7}{YES}
\end{tikzpicture}
\end{document}
